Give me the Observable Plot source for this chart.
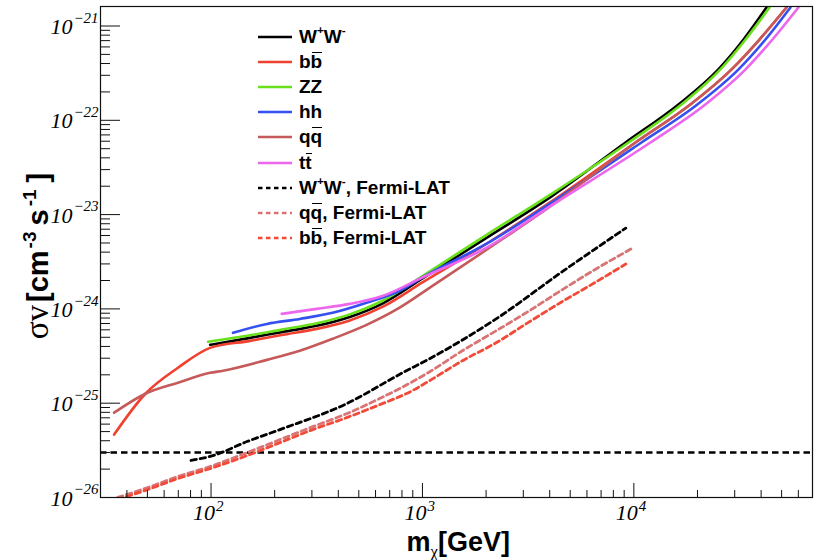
<!DOCTYPE html>
<html>
<head>
<meta charset="utf-8">
<script src="https://cdn.jsdelivr.net/npm/d3@7"></script>
<script src="https://cdn.jsdelivr.net/npm/@observablehq/plot@0.6"></script>
<style>
  body { margin: 0; background: #fff; }
  #wrap { position: relative; width: 819px; height: 560px; overflow: hidden; background: #fff; }
  #legend { position: absolute; left: 257px; top: 24px; font: bold 19px "Liberation Sans", Arial, sans-serif; color: #000; }
  #legend .row { height: 25.2px; display: flex; align-items: center; white-space: nowrap; }
  #legend .row svg { width: 36px; height: 8px; margin-right: 6px; flex: none; }
  .ov { position: relative; display: inline-block; }
  .ov::before { content: ""; position: absolute; left: 1px; right: 0; top: 1px; border-top: 1.7px solid #000; }
  #legend sup { font-size: 0.62em; vertical-align: 0.8em; line-height: 0; }
  .title { position: absolute; font: bold 27px "Liberation Sans", Arial, sans-serif; color: #000; white-space: nowrap; }
  .title sub { font-size: 0.62em; vertical-align: -0.35em; line-height: 0; }
  .greek { font-family: "Liberation Serif", "DejaVu Serif", serif; font-weight: normal; }
</style>
</head>
<body>
<div id="wrap"></div>
<script>
// Dark-matter annihilation cross-section limits versus mass, per channel.
// Masses in GeV, <sigma v> in cm^3 s^-1.

const massWW   = [99, 153, 219, 316, 453, 647, 1009, 2002, 4098, 9170, 16310, 25110, 33030, 42410];
const sigmavWW = [4.16e-25, 4.93e-25, 5.71e-25, 6.61e-25, 8.22e-25, 1.14e-24, 2.13e-24, 5.63e-24, 1.57e-23, 5.85e-23, 1.48e-22, 3.47e-22, 7.19e-22, 1.57e-21];

const massBB   = [34.8, 48.9, 69.8, 99, 153, 219, 316, 453, 647, 1009, 2002, 4098, 10220, 18570, 28990, 39290, 52700];
const sigmavBB = [4.65e-26, 1.26e-25, 2.38e-25, 3.86e-25, 4.58e-25, 5.31e-25, 6.14e-25, 7.55e-25, 1.05e-24, 1.93e-24, 4.88e-24, 1.39e-23, 5.85e-23, 1.48e-22, 3.47e-22, 7.19e-22, 1.57e-21];

const massZZ   = [96.8, 153, 219, 316, 453, 647, 1009, 2002, 4098, 9470, 16850, 25670, 33760, 43810];
const sigmavZZ = [4.48e-25, 5.25e-25, 6.07e-25, 7.03e-25, 8.75e-25, 1.22e-24, 2.26e-24, 6.07e-24, 1.67e-23, 5.85e-23, 1.48e-22, 3.47e-22, 7.19e-22, 1.57e-21];

const massHH   = [127, 184, 263, 376, 544, 780, 1009, 2002, 4098, 10910, 20040, 31280, 41940, 55040];
const sigmavHH = [5.57e-25, 6.93e-25, 7.83e-25, 9.08e-25, 1.16e-24, 1.55e-24, 2.18e-24, 4.88e-24, 1.35e-23, 5.85e-23, 1.48e-22, 3.47e-22, 7.19e-22, 1.57e-21];

const massQQ   = [34.8, 48.9, 69.8, 99, 114, 184, 263, 376, 544, 780, 1080, 2002, 4098, 10220, 18570, 28990, 39290, 52700];
const sigmavQQ = [7.93e-26, 1.26e-25, 1.65e-25, 2.10e-25, 2.21e-25, 2.88e-25, 3.60e-25, 4.82e-25, 6.77e-25, 1.03e-24, 1.67e-24, 4.21e-24, 1.26e-23, 5.85e-23, 1.48e-22, 3.47e-22, 7.19e-22, 1.57e-21];

const massTT   = [216, 316, 453, 647, 1009, 2002, 4098, 12030, 21860, 33760, 45260, 60010];
const sigmavTT = [8.85e-25, 1.0e-24, 1.13e-24, 1.37e-24, 2.18e-24, 4.43e-24, 1.26e-23, 5.85e-23, 1.48e-22, 3.47e-22, 7.19e-22, 1.57e-21];

// Fermi-LAT dwarf-galaxy limits
const massWWFermi   = [80.4, 102, 148, 212, 438, 805, 1080, 2230, 4570, 9160];
const sigmavWWFermi = [2.47e-26, 2.78e-26, 3.92e-26, 5.25e-26, 9.89e-26, 2.10e-25, 2.96e-25, 7.83e-25, 2.47e-24, 7.19e-24];

const massQQFermi   = [36.1, 48.9, 69.8, 102, 148, 212, 303, 438, 627, 897, 1102, 1545, 2230, 3200, 4570, 6620, 9680];
const sigmavQQFermi = [1.0e-26, 1.25e-26, 1.67e-26, 2.18e-26, 2.99e-26, 4.11e-26, 5.64e-26, 7.74e-26, 1.12e-25, 1.69e-25, 2.21e-25, 3.60e-25, 5.85e-25, 9.53e-25, 1.59e-24, 2.65e-24, 4.31e-24];

const massBBFermi   = [36.1, 48.9, 69.8, 102, 148, 212, 303, 438, 627, 897, 1102, 1545, 2230, 3200, 4570, 6620, 9160];
const sigmavBBFermi = [9.5e-27, 1.19e-26, 1.59e-26, 2.07e-26, 2.78e-26, 3.82e-26, 5.25e-26, 7.03e-26, 9.64e-26, 1.36e-25, 1.78e-25, 2.82e-25, 4.37e-25, 7.28e-25, 1.19e-24, 1.93e-24, 2.99e-24];

// Canonical thermal-relic cross section
const thermalRelic = 3e-26;

// Axis ranges and tick values
const massDomain = [30, 7e4];
const sigmavDomain = [1e-26, 1.61e-21];
const majorMassTicks = [1e2, 1e3, 1e4];
const majorSigmavTicks = [1e-26, 1e-25, 1e-24, 1e-23, 1e-22, 1e-21];
const tickMultipliers = [2, 3, 4, 5, 6, 7, 8, 9];

// Legend entries (HTML markup for bars and superscripts)
const seriesLabels = [
  "W<sup>+</sup>W<sup>-</sup>",
  "b<span class='ov'>b</span>",
  "ZZ",
  "hh",
  "q<span class='ov'>q</span>",
  "t<span class='ov'>t</span>",
  "W<sup>+</sup>W<sup>-</sup>, Fermi-LAT",
  "q<span class='ov'>q</span>, Fermi-LAT",
  "b<span class='ov'>b</span>, Fermi-LAT"
];

const series = [
  {mass: massWW, sv: sigmavWW, color: "#000000", dashed: false},
  {mass: massBB, sv: sigmavBB, color: "#f0402f", dashed: false},
  {mass: massZZ, sv: sigmavZZ, color: "#6ae01c", dashed: false},
  {mass: massHH, sv: sigmavHH, color: "#3550f0", dashed: false},
  {mass: massQQ, sv: sigmavQQ, color: "#c65a5a", dashed: false},
  {mass: massTT, sv: sigmavTT, color: "#ec66ee", dashed: false},
  {mass: massWWFermi, sv: sigmavWWFermi, color: "#000000", dashed: true},
  {mass: massQQFermi, sv: sigmavQQFermi, color: "#d97474", dashed: true},
  {mass: massBBFermi, sv: sigmavBBFermi, color: "#f24a38", dashed: true}
];
series.forEach((s, k) => { s.label = seriesLabels[k]; s.rows = s.mass.map((m, i) => ({m, v: s.sv[i]})); });

const minorTicks = (lo, hi) => {
  const out = [];
  for (let d = lo; d <= hi; d *= 10) for (const k of tickMultipliers) out.push(k * d);
  return out;
};
const minorMassTicks = minorTicks(10, 1e4).filter(v => v > massDomain[0] && v < massDomain[1]);
const minorSigmavTicks = minorTicks(1e-26, 1e-22).filter(v => v > sigmavDomain[0] && v < sigmavDomain[1]);

const dash = "5.5,3.8";
const tickFont = {fontFamily: "Liberation Serif, DejaVu Serif, serif", fontStyle: "italic", fill: "#000"};
const expOf = d => (Math.log10(d) < 0 ? "\u2212" : "") + Math.abs(Math.round(Math.log10(d)));

const chart = Plot.plot({
  width: 819,
  height: 560,
  marginLeft: 100,
  marginRight: 7,
  marginTop: 6,
  marginBottom: 63,
  style: {background: "#fff", color: "#000"},
  x: {type: "log", domain: massDomain},
  y: {type: "log", domain: sigmavDomain},
  marks: [
    Plot.ruleY([thermalRelic], {stroke: "#000", strokeWidth: 2.4, strokeDasharray: "6.5,4"}),
    ...series.map(s => Plot.line(s.rows, {
      x: "m", y: "v", stroke: s.color, curve: "monotone-x", clip: true,
      strokeWidth: s.dashed ? 2.8 : 2.6,
      strokeDasharray: s.dashed ? dash : null
    })),
    // inward ticks
    Plot.axisX(majorMassTicks, {anchor: "bottom", tickSize: -14, fill: "none", label: null, stroke: "#111"}),
    Plot.axisX(minorMassTicks, {anchor: "bottom", tickSize: -7, fill: "none", label: null, stroke: "#111"}),
    Plot.axisY(majorSigmavTicks, {anchor: "left", tickSize: -20, fill: "none", label: null, stroke: "#111"}),
    Plot.axisY(minorSigmavTicks, {anchor: "left", tickSize: -10, fill: "none", label: null, stroke: "#111"}),
    // power-of-ten tick labels
    Plot.text(majorMassTicks, {x: d => d, frameAnchor: "bottom", text: () => "10", textAnchor: "end", dx: 4, dy: 22, fontSize: 22, ...tickFont}),
    Plot.text(majorMassTicks, {x: d => d, frameAnchor: "bottom", text: expOf, textAnchor: "start", dx: 5, dy: 13, fontSize: 15, ...tickFont}),
    Plot.text(majorSigmavTicks, {y: d => d, frameAnchor: "left", text: () => "10", textAnchor: "end", dx: -28, dy: 1, fontSize: 22, ...tickFont}),
    Plot.text(majorSigmavTicks, {y: d => d, frameAnchor: "left", text: expOf, textAnchor: "start", dx: -27, dy: -8, fontSize: 15, ...tickFont}),
    Plot.frame({stroke: "#111", strokeWidth: 1.2})
  ]
});

const wrap = document.getElementById("wrap");
wrap.appendChild(chart);

// Vertical axis title, drawn as rotated SVG text with raised exponents
const yTitle = d3.select(chart).append("text")
  .attr("transform", "translate(48,256) rotate(-90)")
  .attr("text-anchor", "middle")
  .attr("font-family", "Liberation Sans, Arial, sans-serif")
  .attr("font-weight", "bold")
  .attr("font-size", 29)
  .attr("fill", "#000");
yTitle.append("tspan").attr("font-family", "Liberation Serif, DejaVu Serif, serif").attr("font-weight", "normal").attr("font-size", 33).text("\u03c3v");
yTitle.append("tspan").attr("dx", 3).text("[cm");
yTitle.append("tspan").attr("dx", 2).attr("dy", -12).attr("font-size", 19).text("-3");
yTitle.append("tspan").attr("dx", 6).attr("dy", 12).text("s");
yTitle.append("tspan").attr("dx", 3).attr("dy", -12).attr("font-size", 19).text("-1");
yTitle.append("tspan").attr("dx", 7).attr("dy", 12).text("]");

// Legend
const legend = document.createElement("div");
legend.id = "legend";
legend.innerHTML = series.map(s => `
  <div class="row">
    <svg viewBox="0 0 36 8"><line x1="1" x2="35" y1="4" y2="4" stroke="${s.color}" stroke-width="2.6" ${s.dashed ? `stroke-dasharray="4.5,3.5"` : ""}/></svg>
    <span>${s.label}</span>
  </div>`).join("");
wrap.appendChild(legend);

// Horizontal axis title
const xTitle = document.createElement("div");
xTitle.className = "title";
xTitle.innerHTML = `m<sub class="greek">\u03c7</sub>[GeV]`;
wrap.appendChild(xTitle);
xTitle.style.left = (458 - xTitle.offsetWidth / 2) + "px";
xTitle.style.top = (542 - xTitle.offsetHeight / 2) + "px";
</script>
</body>
</html>
